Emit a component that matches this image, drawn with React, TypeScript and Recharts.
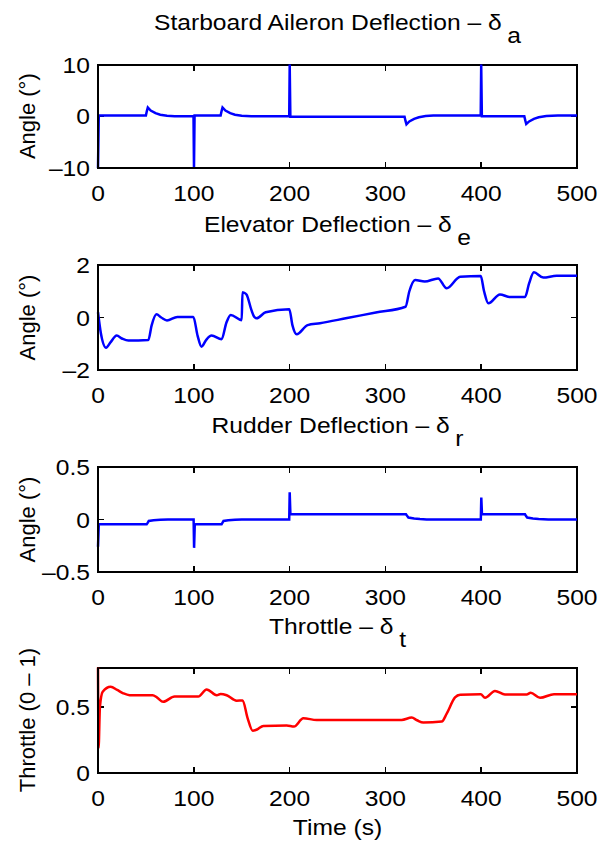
import React from 'react';
import { LineChart, Line, XAxis, YAxis } from 'recharts';

// ---------- data ----------
const timeTicks = [0, 100, 200, 300, 400, 500];

const aileronTime = [0, 0.8, 1.5, 50, 51, 52, 55, 60, 65, 72, 80, 99.7, 100.2, 100.8, 128, 129, 130, 133, 138, 143, 150, 160, 199.6, 200.1, 200.8, 320, 321, 322, 325, 330, 335, 342, 350, 399.5, 400, 400.7, 445, 446, 447, 450, 455, 460, 468, 480, 500];
const aileronDeg = [-10, 0.1, 0.13, 0.13, 1.0, 1.7, 1.1, 0.6, 0.3, 0.1, 0, 0, -10, 0.13, 0.13, 1.0, 1.7, 1.1, 0.6, 0.3, 0.1, 0, 0, 10, -0.1, -0.1, -0.9, -1.55, -1.0, -0.5, -0.2, 0.05, 0.13, 0.13, 10, 0, 0, -0.8, -1.5, -1.0, -0.5, -0.2, 0.05, 0.13, 0.13];
const aileronTicks = [-10, 0, 10];

const elevTime = [0, 3, 8.4, 13, 19.5, 25, 31.7, 52.5, 56, 61, 66, 72, 82.8, 99.5, 104, 108, 113, 118.6, 129, 134, 138.5, 150, 150.8, 152, 155, 160, 163, 165.6, 175, 199.7, 203, 207.4, 218.8, 231.7, 260, 290, 321, 325, 331, 341, 355, 364, 378, 399.5, 403, 407.5, 419.6, 430, 445.7, 450, 455, 464.8, 478.7, 500];
const elevDeg = [0.2, -0.6, -1.15, -0.95, -0.69, -0.8, -0.88, -0.86, -0.3, 0.12, 0.0, -0.11, 0.02, 0.02, -0.7, -1.11, -0.85, -0.69, -0.83, -0.2, 0.1, -0.1, 0.96, 0.95, 0.88, 0.3, 0.03, -0.03, 0.2, 0.31, -0.3, -0.64, -0.29, -0.22, -0.02, 0.19, 0.41, 1.0, 1.43, 1.37, 1.49, 1.11, 1.55, 1.58, 1.0, 0.54, 0.88, 0.78, 0.78, 1.3, 1.72, 1.52, 1.59, 1.59];
const elevTicks = [-2, 0, 2];

const rudTime = [0, 0.8, 1.5, 50.8, 52, 53, 58, 65, 73, 99.8, 100.3, 101, 102, 129, 130, 131, 136, 143, 150, 199.6, 200.1, 200.8, 202, 321.5, 323, 324, 330, 336, 343, 399.6, 400.1, 400.8, 402, 445.7, 447, 448, 454, 460, 470, 500];
const rudDeg = [-0.26, -0.05, -0.046, -0.046, -0.03, -0.014, -0.008, -0.003, 0, 0, -0.27, -0.05, -0.046, -0.046, -0.03, -0.014, -0.008, -0.003, 0, 0, 0.26, 0.06, 0.05, 0.05, 0.03, 0.018, 0.01, 0.004, 0, 0, 0.21, 0.05, 0.05, 0.05, 0.03, 0.018, 0.01, 0.004, 0, 0];
const rudTicks = [-0.5, 0, 0.5];

const thrTime = [0, 0.6, 2, 4.9, 13.2, 20, 26.4, 33, 57, 62, 68, 80, 104.7, 113.4, 123.9, 128, 134.3, 144.7, 151, 156, 161.5, 166, 172.6, 197, 204.6, 214.3, 228.3, 317, 327.5, 333, 339.6, 358.8, 364, 372.7, 378, 399.5, 404, 414.4, 424.8, 447.5, 451.6, 461.4, 476, 500];
const thrVal = [0.8, 0.19, 0.5, 0.616, 0.654, 0.63, 0.604, 0.59, 0.59, 0.57, 0.54, 0.58, 0.58, 0.634, 0.59, 0.6, 0.59, 0.548, 0.55, 0.42, 0.32, 0.33, 0.357, 0.36, 0.352, 0.415, 0.402, 0.402, 0.42, 0.40, 0.382, 0.39, 0.45, 0.573, 0.593, 0.598, 0.57, 0.622, 0.596, 0.596, 0.608, 0.57, 0.598, 0.598];
const thrTicks = [0, 0.5];

const toRows = (ts: number[], vs: number[]) => ts.map((t, i) => ({ t, v: vs[i] }));

// ---------- styling ----------
const FONT = '"Liberation Sans", Arial, Helvetica, sans-serif';
const FS = 22;
const SX = 1.12; // horizontal stretch of the reference lettering
const TICK_LEN = 6;
const X_MIN = 0;
const X_MAX = 500;
const PLOT_L = 98;
const PLOT_W = 479;
const fmt = (v: number) => (v < 0 ? '\u2013' + String(-v) : String(v));

function SText({ x, y, anchor, children }: { x: number; y: number; anchor: string; children: React.ReactNode }) {
  return (
    <text
      transform={`translate(${x}, ${y}) scale(${SX}, 1)`}
      textAnchor={anchor}
      fontSize={FS}
      fontFamily={FONT}
      fill="#000"
    >
      {children}
    </text>
  );
}

function BottomTick(props: any) {
  const { x, y, payload } = props;
  return <SText x={x} y={y + 33} anchor="middle">{fmt(payload.value)}</SText>;
}

function LeftTick(props: any) {
  const { x, y, payload } = props;
  return <SText x={x - 8} y={y + 8} anchor="end">{fmt(payload.value)}</SText>;
}

const axisLine = { stroke: '#000', strokeWidth: 2 };

type PanelProps = {
  chartTop: number;
  chartBottom: number;
  plotTop: number;
  plotBottom: number;
  rows: { t: number; v: number }[];
  domain: [number, number];
  ticks: number[];
  color: string;
  curve: 'linear' | 'monotone';
};

// MATLAB-style box with inward tick marks (HTML decoration behind the chart)
function Frame({ plotTop, plotBottom, domain, ticks }: PanelProps) {
  const h = plotBottom - plotTop;
  const tickStyle = { position: 'absolute' as const, background: '#000' };
  const xPos = (t: number) => PLOT_L + ((t - X_MIN) / (X_MAX - X_MIN)) * PLOT_W;
  const yPos = (v: number) => plotBottom - ((v - domain[0]) / (domain[1] - domain[0])) * h;
  return (
    <>
      <div
        style={{
          position: 'absolute',
          left: PLOT_L - 1,
          top: plotTop - 1,
          width: PLOT_W + 2,
          height: h + 2,
          border: '2px solid #000',
          boxSizing: 'border-box',
        }}
      />
      {timeTicks.map((t) => (
        <React.Fragment key={'x' + t}>
          <div style={{ ...tickStyle, left: xPos(t) - 0.75, top: plotBottom - TICK_LEN, width: 1.5, height: TICK_LEN }} />
          <div style={{ ...tickStyle, left: xPos(t) - 0.75, top: plotTop, width: 1.5, height: TICK_LEN }} />
        </React.Fragment>
      ))}
      {ticks.map((v) => (
        <React.Fragment key={'y' + v}>
          <div style={{ ...tickStyle, left: PLOT_L, top: yPos(v) - 0.75, width: TICK_LEN, height: 1.5 }} />
          <div style={{ ...tickStyle, left: PLOT_L + PLOT_W - TICK_LEN, top: yPos(v) - 0.75, width: TICK_LEN, height: 1.5 }} />
        </React.Fragment>
      ))}
    </>
  );
}

function Panel({ chartTop, chartBottom, plotTop, plotBottom, rows, domain, ticks, color, curve }: PanelProps) {
  const H = chartBottom - chartTop;
  return (
    <LineChart
      width={609}
      height={H}
      data={rows}
      margin={{ top: plotTop - chartTop, right: 32, bottom: chartBottom - plotBottom - 40, left: 38 }}
    >
      <XAxis
        xAxisId="b"
        dataKey="t"
        type="number"
        domain={[X_MIN, X_MAX]}
        ticks={timeTicks}
        height={40}
        tickSize={0}
        tickMargin={0}
        tickLine={false}
        axisLine={axisLine}
        tick={BottomTick}
      />
      <YAxis
        yAxisId="l"
        type="number"
        domain={domain}
        ticks={ticks}
        width={60}
        tickSize={0}
        tickMargin={0}
        tickLine={false}
        axisLine={axisLine}
        tick={LeftTick}
      />
      <Line
        xAxisId="b"
        yAxisId="l"
        dataKey="v"
        type={curve}
        stroke={color}
        strokeWidth={2.5}
        dot={false}
        activeDot={false}
        isAnimationActive={false}
      />
    </LineChart>
  );
}

const CX = 337.5;

function Title({ y, main, sub }: { y: number; main: string; sub: string }) {
  return (
    <SText x={CX} y={y} anchor="middle">
      {main}
      <tspan dx={5} dy={13}>{sub}</tspan>
    </SText>
  );
}

function YLabel({ cy, label }: { cy: number; label: string }) {
  return (
    <text
      transform={`translate(35, ${cy}) rotate(-90)`}
      textAnchor="middle"
      fontSize={FS}
      fontFamily={FONT}
      fill="#000"
    >
      {label}
    </text>
  );
}

export default function App() {
  const panels: PanelProps[] = [
    { chartTop: 0, chartBottom: 216, plotTop: 64.5, plotBottom: 168, rows: toRows(aileronTime, aileronDeg), domain: [-10, 10], ticks: aileronTicks, color: '#0000ff', curve: 'linear' },
    { chartTop: 216, chartBottom: 418, plotTop: 265, plotBottom: 370, rows: toRows(elevTime, elevDeg), domain: [-2, 2], ticks: elevTicks, color: '#0000ff', curve: 'monotone' },
    { chartTop: 418, chartBottom: 619, plotTop: 467, plotBottom: 572, rows: toRows(rudTime, rudDeg), domain: [-0.5, 0.5], ticks: rudTicks, color: '#0000ff', curve: 'linear' },
    { chartTop: 619, chartBottom: 843, plotTop: 667.5, plotBottom: 773, rows: toRows(thrTime, thrVal), domain: [0, 0.8], ticks: thrTicks, color: '#ff0000', curve: 'monotone' },
  ];
  return (
    <div style={{ position: 'absolute', left: 0, top: 0, width: 609, height: 843, background: '#fff' }}>
      {panels.map((p, i) => (
        <Frame key={'f' + i} {...p} />
      ))}
      <svg width={609} height={843} style={{ position: 'absolute', left: 0, top: 0, pointerEvents: 'none' }}>
        <Title y={30} main="Starboard Aileron Deflection – δ" sub="a" />
        <Title y={231.7} main="Elevator Deflection – δ" sub="e" />
        <Title y={433} main="Rudder Deflection – δ" sub="r" />
        <Title y={634} main="Throttle – δ" sub="t" />
        <YLabel cy={116.2} label="Angle (°)" />
        <YLabel cy={317.5} label="Angle (°)" />
        <YLabel cy={519.5} label="Angle (°)" />
        <YLabel cy={720} label="Throttle (0 – 1)" />
        <SText x={CX} y={835} anchor="middle">Time (s)</SText>
      </svg>
      {panels.map((p, i) => (
        <Panel key={i} {...p} />
      ))}
    </div>
  );
}
